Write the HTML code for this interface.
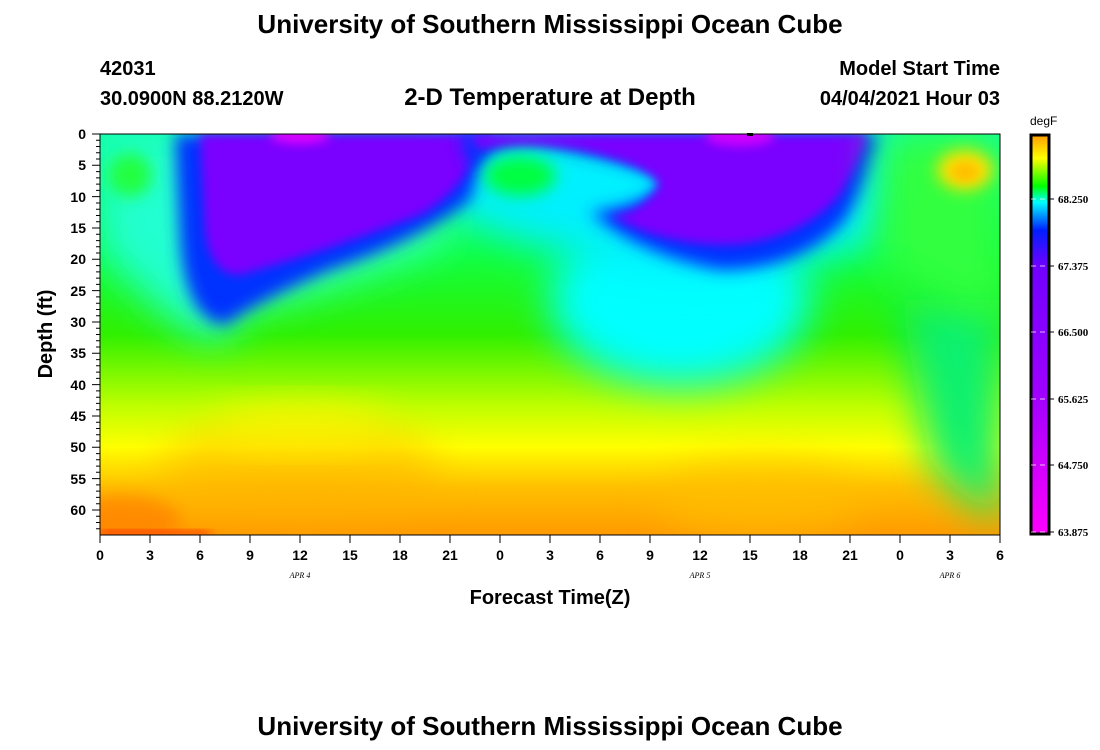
<!DOCTYPE html>
<html><head><meta charset="utf-8"><style>
body{margin:0;background:#fff;width:1100px;height:750px;overflow:hidden;font-family:"Liberation Sans",Arial,sans-serif}
svg{position:absolute;left:0;top:0}
</style></head><body>
<svg width="1100" height="750" viewBox="0 0 1100 750" font-family="Liberation Sans, Arial, sans-serif">
<defs>
<linearGradient id="base" x1="0" y1="134" x2="0" y2="535" gradientUnits="userSpaceOnUse">
<stop offset="0" stop-color="#10ffa0"/><stop offset="0.3" stop-color="#10ff40"/><stop offset="0.5" stop-color="#30f000"/>
<stop offset="0.68" stop-color="#c0ff00"/><stop offset="0.78" stop-color="#ffff00"/><stop offset="0.88" stop-color="#ffc000"/><stop offset="1" stop-color="#ff9a00"/>
</linearGradient>
<linearGradient id="cb" x1="0" y1="134" x2="0" y2="535" gradientUnits="userSpaceOnUse">
<stop offset="0" stop-color="#ff9800"/><stop offset="0.06" stop-color="#ffff00"/><stop offset="0.13" stop-color="#00ff00"/>
<stop offset="0.17" stop-color="#00ffff"/><stop offset="0.24" stop-color="#0020ff"/><stop offset="0.33" stop-color="#7000ff"/>
<stop offset="0.65" stop-color="#a000ff"/><stop offset="1" stop-color="#ff00ff"/>
</linearGradient>
<filter id="b20" x="-50%" y="-50%" width="200%" height="200%"><feGaussianBlur stdDeviation="20"/></filter>
<filter id="b8" x="-50%" y="-50%" width="200%" height="200%"><feGaussianBlur stdDeviation="8"/></filter>
<filter id="b5" x="-50%" y="-50%" width="200%" height="200%"><feGaussianBlur stdDeviation="5"/></filter>
<clipPath id="pc"><rect x="100" y="134" width="900" height="401"/></clipPath>
</defs>
<g clip-path="url(#pc)">
<rect x="100" y="134" width="900" height="401" fill="url(#base)"/>
<ellipse cx="300" cy="470" rx="140" ry="50" fill="#ffb000" filter="url(#b20)" opacity="0.5"/>
<ellipse cx="300" cy="425" rx="90" ry="20" fill="#ffff00" filter="url(#b20)" opacity="0.7"/>
<ellipse cx="760" cy="500" rx="100" ry="40" fill="#ffc000" filter="url(#b20)" opacity="0.6"/>
<path d="M900,300 L1000,300 L1000,520 Q960,500 930,460 Z" fill="#10f070" filter="url(#b20)"/>
<ellipse cx="120" cy="520" rx="60" ry="25" fill="#ff8000" filter="url(#b8)" opacity="0.7"/>
<rect x="100" y="531" width="110" height="5" fill="#ff2000" filter="url(#b5)"/>
<ellipse cx="680" cy="300" rx="130" ry="85" fill="#00ffff" filter="url(#b20)"/>
<path d="M100,134 L230,134 L230,340 Q190,340 150,300 L100,250 Z" fill="#20ffd0" filter="url(#b20)"/>
<path d="M440,134 L900,134 L880,240 Q700,300 560,250 Q470,230 440,200 Z" fill="#00f0ff" filter="url(#b20)"/>
<path d="M200,260 Q300,250 440,200 L450,240 Q330,290 210,320 Z" fill="#30ffc0" filter="url(#b20)"/>
<path d="M175,134 L180,240 Q185,320 225,325 Q260,300 330,270 Q420,240 470,200 L490,134 Z" fill="#0030ff" filter="url(#b8)"/>
<path d="M200,134 L205,230 Q210,275 240,275 Q330,250 420,215 Q465,190 475,150 L470,134 Z" fill="#7a00ff" filter="url(#b5)"/>
<path d="M460,134 L470,170 Q500,135 560,148 Q640,165 665,180 Q650,205 590,212 Q640,255 720,270 Q800,270 845,220 Q870,180 880,134 Z" fill="#0030ff" filter="url(#b8)"/>
<path d="M470,134 L478,150 Q520,140 580,150 Q650,165 660,185 Q640,215 610,215 Q660,245 730,245 Q800,240 840,195 Q860,160 868,134 Z" fill="#7a00ff" filter="url(#b5)"/>
<ellipse cx="520" cy="176" rx="36" ry="20" fill="#00ff40" filter="url(#b8)"/>
<ellipse cx="130" cy="175" rx="22" ry="22" fill="#20ff40" filter="url(#b8)"/>
<path d="M880,134 L1000,134 L1000,320 Q940,300 880,260 Z" fill="#30ff40" filter="url(#b20)"/>
<ellipse cx="965" cy="170" rx="28" ry="20" fill="#ffe000" filter="url(#b8)"/>
<ellipse cx="965" cy="172" rx="14" ry="10" fill="#ffc000" filter="url(#b5)"/>
<ellipse cx="300" cy="136" rx="30" ry="8" fill="#e000ff" filter="url(#b5)"/>
<ellipse cx="740" cy="136" rx="35" ry="10" fill="#d000ff" filter="url(#b5)"/>
</g>
<rect x="100" y="134" width="900" height="401" fill="none" stroke="#000" stroke-width="1"/>
<rect x="747" y="133" width="6" height="3" fill="#000"/>
<g stroke="#000" stroke-width="1">
<path d="M100,134h-8M100,165.3h-8M100,196.6h-8M100,228h-8M100,259.3h-8M100,290.6h-8M100,322h-8M100,353.3h-8M100,384.6h-8M100,416h-8M100,447.3h-8M100,478.6h-8M100,510h-8"/>
<path d="M100,140.3h-4M100,146.5h-4M100,152.8h-4M100,159h-4M100,171.6h-4M100,177.9h-4M100,184.1h-4M100,190.4h-4M100,203h-4M100,209.2h-4M100,215.5h-4M100,221.7h-4M100,234.3h-4M100,240.6h-4M100,246.8h-4M100,253h-4M100,265.6h-4M100,271.9h-4M100,278.1h-4M100,284.4h-4M100,296.9h-4M100,303.2h-4M100,309.5h-4M100,315.7h-4M100,328.3h-4M100,334.5h-4M100,340.8h-4M100,347h-4M100,359.6h-4M100,365.8h-4M100,372.1h-4M100,378.4h-4M100,390.9h-4M100,397.2h-4M100,403.4h-4M100,409.7h-4M100,422.2h-4M100,428.5h-4M100,434.8h-4M100,441h-4M100,453.6h-4M100,459.8h-4M100,466.1h-4M100,472.3h-4M100,484.9h-4M100,491.1h-4M100,497.4h-4M100,503.7h-4M100,516.2h-4M100,522.5h-4M100,528.7h-4"/>
<path d="M100,535v8M150,535v8M200,535v8M250,535v8M300,535v8M350,535v8M400,535v8M450,535v8M500,535v8M550,535v8M600,535v8M650,535v8M700,535v8M750,535v8M800,535v8M850,535v8M900,535v8M950,535v8M1000,535v8"/>
</g>
<g font-size="14" font-weight="bold" text-anchor="end">
<text x="86" y="139">0</text><text x="86" y="170">5</text><text x="86" y="202">10</text><text x="86" y="233">15</text><text x="86" y="264">20</text><text x="86" y="296">25</text><text x="86" y="327">30</text><text x="86" y="358">35</text><text x="86" y="390">40</text><text x="86" y="421">45</text><text x="86" y="452">50</text><text x="86" y="484">55</text><text x="86" y="515">60</text>
</g>
<g font-size="14" font-weight="bold" text-anchor="middle">
<text x="100" y="560">0</text><text x="150" y="560">3</text><text x="200" y="560">6</text><text x="250" y="560">9</text><text x="300" y="560">12</text><text x="350" y="560">15</text><text x="400" y="560">18</text><text x="450" y="560">21</text><text x="500" y="560">0</text><text x="550" y="560">3</text><text x="600" y="560">6</text><text x="650" y="560">9</text><text x="700" y="560">12</text><text x="750" y="560">15</text><text x="800" y="560">18</text><text x="850" y="560">21</text><text x="900" y="560">0</text><text x="950" y="560">3</text><text x="1000" y="560">6</text>
</g>
<g font-size="8" font-style="italic" font-family="Liberation Serif, serif" text-anchor="middle">
<text x="300" y="578">APR 4</text><text x="700" y="578">APR 5</text><text x="950" y="578">APR 6</text>
</g>
<text x="550" y="604" font-size="20" font-weight="bold" text-anchor="middle">Forecast Time(Z)</text>
<text transform="translate(52,334) rotate(-90)" font-size="20" font-weight="bold" text-anchor="middle">Depth (ft)</text>
<text x="550" y="33" font-size="26" font-weight="bold" text-anchor="middle">University of Southern Mississippi Ocean Cube</text>
<text x="550" y="735" font-size="26" font-weight="bold" text-anchor="middle">University of Southern Mississippi Ocean Cube</text>
<text x="100" y="75" font-size="20" font-weight="bold">42031</text>
<text x="100" y="105" font-size="20" font-weight="bold">30.0900N  88.2120W</text>
<text x="550" y="105" font-size="24" font-weight="bold" text-anchor="middle">2-D Temperature at Depth</text>
<text x="1000" y="75" font-size="20" font-weight="bold" text-anchor="end">Model Start Time</text>
<text x="1000" y="105" font-size="20" font-weight="bold" text-anchor="end">04/04/2021 Hour 03</text>
<rect x="1031" y="135" width="18" height="399" fill="url(#cb)" stroke="#000" stroke-width="3"/>
<g stroke="#fff" stroke-width="1" stroke-dasharray="5,4" opacity="0.7">
<path d="M1031,199h18M1031,266h18M1031,332h18M1031,399h18M1031,465h18M1031,532h18"/>
</g>
<g stroke="#000"><path d="M1049,199h5M1049,266h5M1049,332h5M1049,399h5M1049,465h5M1049,532h5"/></g>
<g font-size="11" font-family="Liberation Serif, serif" font-weight="bold">
<text x="1058" y="203">68.250</text><text x="1058" y="270">67.375</text><text x="1058" y="336">66.500</text><text x="1058" y="403">65.625</text><text x="1058" y="469">64.750</text><text x="1058" y="536">63.875</text>
</g>
<text x="1030" y="125" font-size="12">degF</text>
</svg>
</body></html>
